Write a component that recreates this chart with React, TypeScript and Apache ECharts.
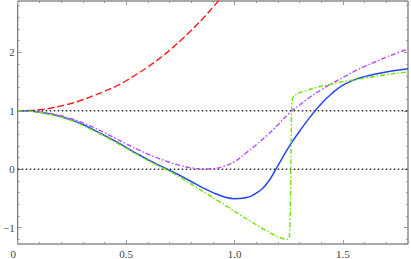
import React, { useEffect, useRef } from 'react';
import * as echarts from 'echarts';

const xValues = [0, 0.05, 0.1, 0.15, 0.2, 0.25, 0.3, 0.35, 0.4, 0.45, 0.5, 0.55, 0.6, 0.65, 0.7, 0.75, 0.8, 0.85, 0.9, 0.95, 1.0, 1.05, 1.1, 1.15, 1.2, 1.25, 1.3, 1.35, 1.4, 1.45, 1.5, 1.55, 1.6, 1.65, 1.7, 1.75, 1.8];

const redX = [0, 0.05, 0.1, 0.15, 0.2, 0.25, 0.3, 0.35, 0.4, 0.45, 0.5, 0.55, 0.6, 0.65, 0.7, 0.75, 0.8, 0.85, 0.9, 0.95];
const redY = [1.0, 1.005, 1.02, 1.045, 1.085, 1.13, 1.19, 1.26, 1.335, 1.415, 1.515, 1.63, 1.75, 1.885, 2.035, 2.2, 2.375, 2.565, 2.77, 2.99];

const blueY = [1.0, 0.995, 0.975, 0.945, 0.9, 0.84, 0.765, 0.675, 0.58, 0.48, 0.375, 0.265, 0.165, 0.07, -0.02, -0.11, -0.21, -0.31, -0.4, -0.47, -0.505, -0.49, -0.41, -0.24, 0.06, 0.38, 0.65, 0.9, 1.12, 1.3, 1.44, 1.525, 1.585, 1.63, 1.665, 1.695, 1.72];

const magentaY = [1.0, 0.995, 0.98, 0.955, 0.915, 0.86, 0.795, 0.715, 0.625, 0.53, 0.435, 0.345, 0.26, 0.185, 0.12, 0.065, 0.025, 0.005, 0.01, 0.05, 0.13, 0.27, 0.42, 0.58, 0.76, 0.95, 1.1, 1.24, 1.36, 1.47, 1.57, 1.67, 1.76, 1.84, 1.92, 1.99, 2.06];

const greenX = [0, 0.05, 0.1, 0.15, 0.2, 0.25, 0.3, 0.35, 0.4, 0.45, 0.5, 0.55, 0.6, 0.65, 0.7, 0.75, 0.8, 0.85, 0.9, 0.95, 1.0, 1.05, 1.1, 1.15, 1.2, 1.225, 1.245, 1.253, 1.257, 1.26, 1.262, 1.265, 1.27, 1.28, 1.3, 1.35, 1.4, 1.45, 1.5, 1.55, 1.6, 1.65, 1.7, 1.75, 1.8];
const greenY = [1.0, 0.995, 0.973, 0.94, 0.893, 0.83, 0.752, 0.662, 0.565, 0.465, 0.36, 0.255, 0.15, 0.055, -0.035, -0.14, -0.255, -0.37, -0.485, -0.6, -0.72, -0.835, -0.95, -1.06, -1.155, -1.19, -1.2, -1.15, -0.7, 0.0, 0.8, 1.15, 1.23, 1.27, 1.31, 1.37, 1.42, 1.46, 1.5, 1.53, 1.56, 1.59, 1.62, 1.645, 1.665];

const refLevels = [0, 1];

const X_MIN = 0;
const X_MAX = 1.8;
const Y_MIN = -1.28;
const Y_MAX = 2.88;

const pairs = (xs: number[], ys: number[]) => xs.map((x, i) => [x, ys[i]]);

export default function App() {
  const ref = useRef<HTMLDivElement>(null);
  useEffect(() => {
    if (!ref.current) return;
    const chart = echarts.init(ref.current, undefined, { renderer: 'svg' });
    const font = { fontFamily: 'Liberation Serif', fontSize: 11, color: '#444' };
    const tickColor = '#9a9a9a';
    const mkX = (pos: 'bottom' | 'top', major: boolean, labels: boolean) => ({
      type: 'value', gridIndex: 0, position: pos, min: X_MIN, max: X_MAX,
      interval: major ? 0.5 : 0.1,
      axisLine: { show: false, onZero: false },
      splitLine: { show: false },
      axisTick: { show: true, inside: true, length: major ? 4 : 2, lineStyle: { color: tickColor, width: 1 } },
      axisLabel: labels ? {
        show: true, margin: 4, ...font, showMaxLabel: false,
        formatter: (v: number) => (v === 0 ? '{z|0}' : v.toFixed(1)),
        rich: { z: { ...font, padding: [0, 9, 0, 0] } },
      } : { show: false },
    });
    const mkY = (pos: 'left' | 'right', major: boolean, labels: boolean) => ({
      type: 'value', gridIndex: 0, position: pos, min: Y_MIN, max: Y_MAX,
      splitNumber: major ? 5 : 20,
      axisLine: { show: false, onZero: false },
      splitLine: { show: false },
      axisTick: { show: true, inside: true, length: major ? 4 : 2, lineStyle: { color: tickColor, width: 1 } },
      axisLabel: labels ? {
        show: true, margin: 3, ...font, showMinLabel: false, showMaxLabel: false,
        formatter: (v: number) => (v < 0 ? '\u2212' + Math.abs(v) : String(v)),
      } : { show: false },
    });
    const dashDot = [5, 2, 1.5, 2];
    chart.setOption({
      animation: false,
      grid: { left: 14, right: 3, top: 1, bottom: 14, show: true, borderColor: '#555', borderWidth: 1, containLabel: false },
      xAxis: [mkX('bottom', true, true), mkX('bottom', false, false), mkX('top', true, false), mkX('top', false, false)],
      yAxis: [mkY('left', true, true), mkY('left', false, false), mkY('right', true, false), mkY('right', false, false)],
      series: [
        ...refLevels.map((lv) => ({
          type: 'line', xAxisIndex: 0, yAxisIndex: 0, showSymbol: false, symbol: 'none',
          data: [[X_MIN, lv], [X_MAX, lv]],
          lineStyle: { color: '#333', width: 1.5, type: [1.6, 2.4] },
        })),
        {
          type: 'line', xAxisIndex: 0, yAxisIndex: 0, symbol: 'none', smooth: 0.5,
          data: pairs(redX, redY), lineStyle: { color: '#ff1a1a', width: 1.4, type: [7, 3] },
        },
        {
          type: 'line', xAxisIndex: 0, yAxisIndex: 0, symbol: 'none', smooth: 0.5,
          data: pairs(xValues, blueY), lineStyle: { color: '#2244ff', width: 1.5 },
        },
        {
          type: 'line', xAxisIndex: 0, yAxisIndex: 0, symbol: 'none', smooth: 0.5,
          data: pairs(xValues, magentaY), lineStyle: { color: '#b64cff', width: 1.4, type: dashDot },
        },
        {
          type: 'line', xAxisIndex: 0, yAxisIndex: 0, symbol: 'none', smooth: 0.3,
          data: pairs(greenX, greenY), lineStyle: { color: '#6ee600', width: 1.4, type: dashDot },
        },
      ],
    });
    return () => chart.dispose();
  }, []);
  return <div ref={ref} style={{ position: 'absolute', left: 0, top: 0, width: 411, height: 259 }} />;
}
